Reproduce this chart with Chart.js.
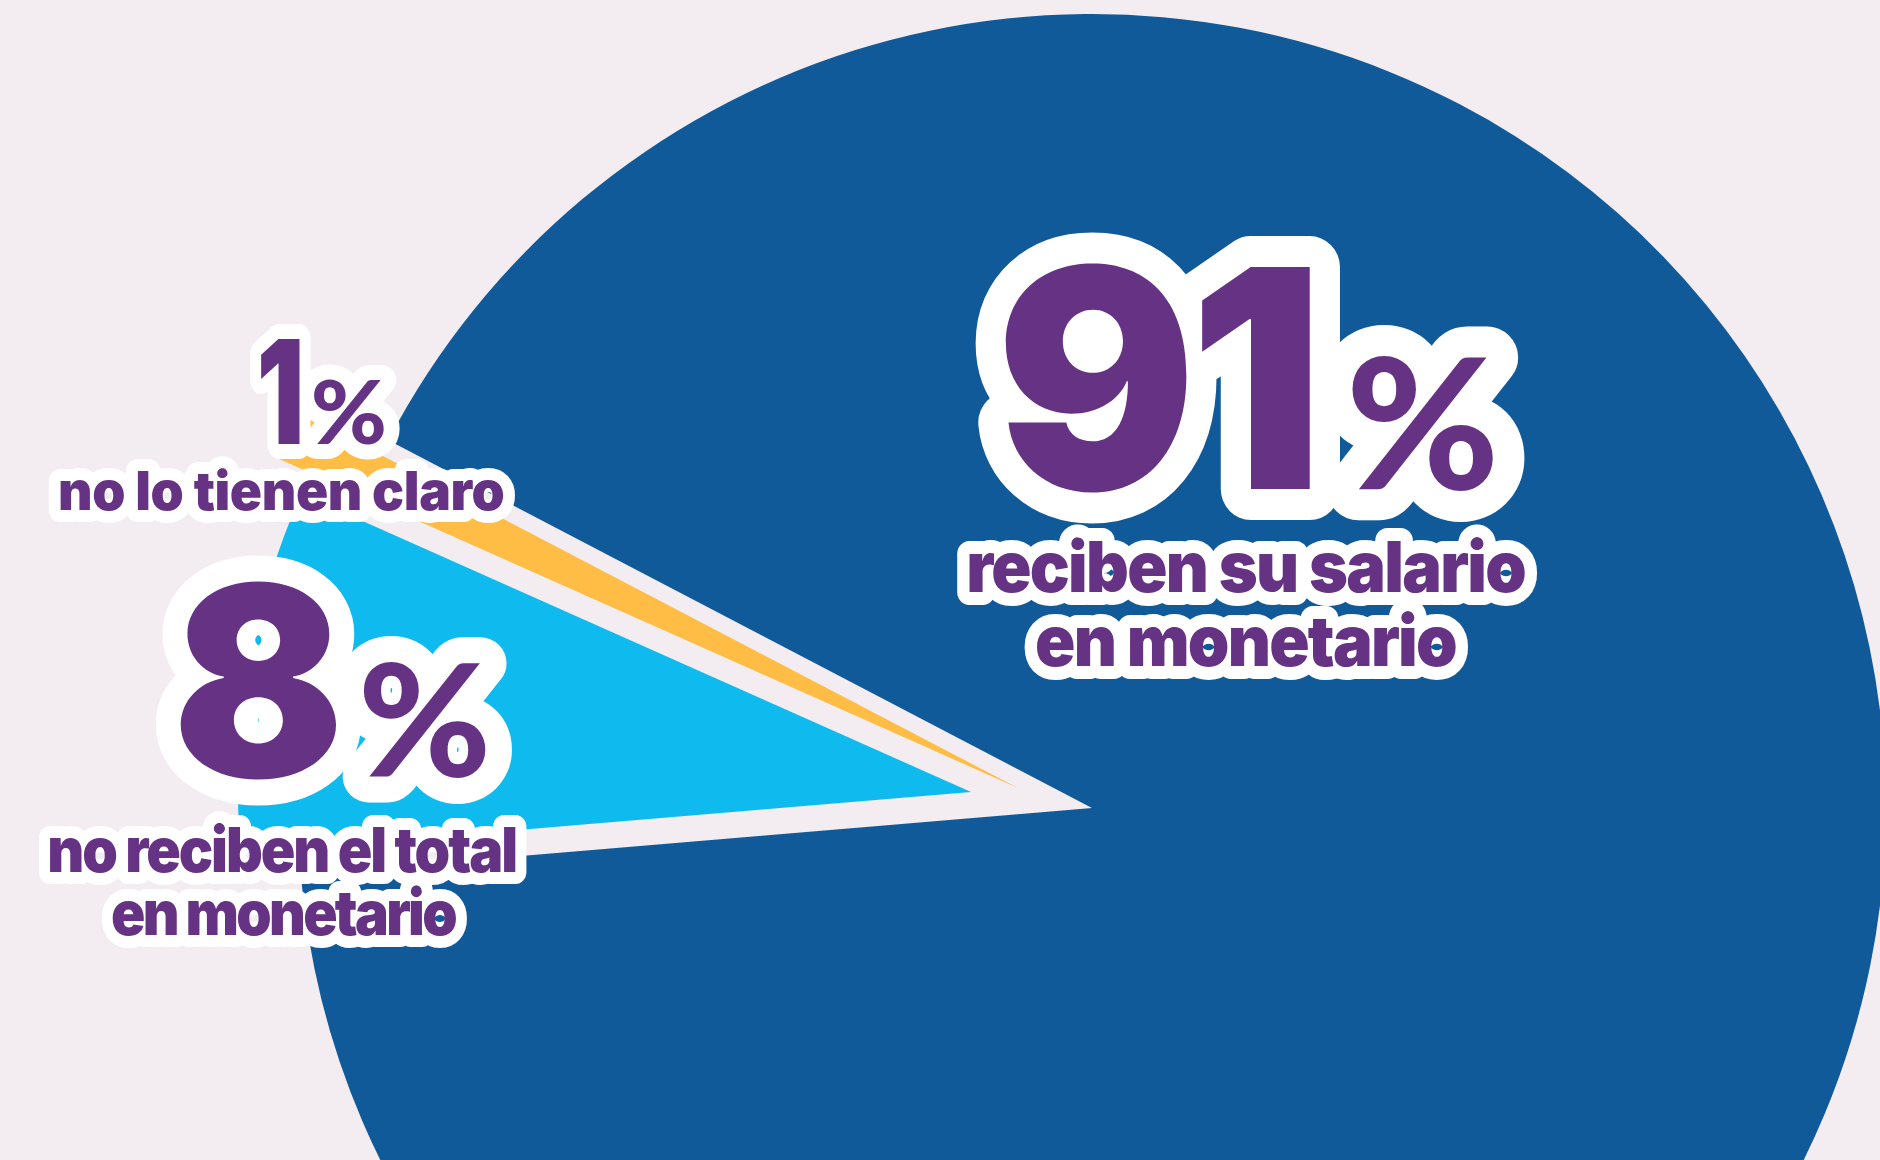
<!DOCTYPE html>
<html>
<head>
<meta charset="utf-8">
<script src="https://cdn.jsdelivr.net/npm/chart.js@4.4.0/dist/chart.umd.min.js"></script>
<style>
  html, body { margin: 0; padding: 0; background: #F3EDF1; overflow: hidden; }
  #wrap { position: relative; width: 1880px; height: 1160px; }
  #wrap canvas { position: absolute; left: 0; top: 0; }
</style>
</head>
<body>
<div id="wrap">
  <canvas id="sliceMain" width="1880" height="1160"></canvas>
  <canvas id="sliceMid" width="1880" height="1160"></canvas>
  <canvas id="sliceSmall" width="1880" height="1160"></canvas>
</div>
<script>
// datos
const categories = ['reciben su salario en monetario', 'no reciben el total en monetario', 'no lo tienen claro'];
const shares = [91, 8, 1];
const sliceColors = ['#115A99', '#0EBAEE', '#FFBD45'];

const PURPLE = '#663283';
const FONT = 'Inter, Roboto, sans-serif';
const PCT_FONT = 'Lato, Inter, sans-serif';
const W = 1880, H = 1160;

// each slice is its own pie, pulled out of the main one
function drawSlice(canvasId, idx, cx, cy, radius, extraPlugins) {
    const canvas = document.getElementById(canvasId);
    const padX = 2 * cx - W, padY = 2 * cy - H;
    return new Chart(canvas, {
        type: 'pie',
        data: {
            labels: categories,
            datasets: [{
                data: shares,
                backgroundColor: sliceColors.map((c, i) => i === idx ? c : 'rgba(0,0,0,0)'),
                borderWidth: 0
            }]
        },
        options: {
            responsive: false,
            animation: false,
            events: [],
            devicePixelRatio: 1,
            radius: radius,
            rotation: -62.4,
            layout: {
                padding: {
                    left: Math.max(padX, 0), right: Math.max(-padX, 0),
                    top: Math.max(padY, 0), bottom: Math.max(-padY, 0)
                }
            },
            plugins: { legend: { display: false }, tooltip: { enabled: false } }
        },
        plugins: extraPlugins || []
    });
}

// texto con contorno blanco, ajustado a un ancho
function fitText(ctx, text, size, x0, x1, baseline, stroke, outline) {
    ctx.save();
    ctx.font = `900 ${size}px ${text === '%' ? PCT_FONT : FONT}`;
    ctx.letterSpacing = '0px';
    let m = ctx.measureText(text);
    let ink = m.actualBoundingBoxLeft + m.actualBoundingBoxRight;
    const target = x1 - x0;
    if (text.length > 1 && ink > target) {
        const ls = Math.max((target - ink) / (text.length - 1) * 0.5, -size * 0.05);
        ctx.letterSpacing = ls + 'px';
        m = ctx.measureText(text);
        ink = m.actualBoundingBoxLeft + m.actualBoundingBoxRight;
    }
    const sx = target / ink;
    ctx.translate(x0, baseline);
    ctx.scale(sx, 1);
    ctx.textAlign = 'left';
    ctx.textBaseline = 'alphabetic';
    if (stroke) {
        ctx.strokeStyle = '#FFFFFF';
        ctx.lineJoin = 'round';
        ctx.lineCap = 'round';
        ctx.lineWidth = outline * 2;
        ctx.strokeText(text, m.actualBoundingBoxLeft, 0);
    } else {
        ctx.fillStyle = PURPLE;
        ctx.fillText(text, m.actualBoundingBoxLeft, 0);
    }
    ctx.restore();
}

const labelPlugin = {
    id: 'bigLabels',
    afterDraw(chart) {
        const ctx = chart.ctx;
        const items = [
            // 91%
            [String(shares[0]), 305, 1005, 1310, 489, 31],
            ['%', 182, 1352, 1493, 489, 31],
            ['reciben su salario', 70, 969, 1525, 592, 13],
            ['en monetario', 70, 1037, 1456, 666, 13],
            // 1%
            [String(shares[2]), 144, 261, 300, 444, 15],
            ['%', 87, 314, 384, 444, 15],
            ['no lo tienen claro', 54, 60, 504, 510, 12],
            // 8%
            [String(shares[1]), 265, 180, 339, 777, 26],
            ['%', 157, 363, 486, 777, 26],
            ['no reciben el total', 62, 50, 516, 872, 12],
            ['en monetario', 62, 112, 456, 935, 12]
        ];
        items.forEach(it => fitText(ctx, it[0], it[1], it[2], it[3], it[4], true, it[5]));
        items.forEach(it => fitText(ctx, it[0], it[1], it[2], it[3], it[4], false, it[5]));
    }
};

drawSlice('sliceMain', 0, 1092, 808, 794);
drawSlice('sliceMid', 1, 971, 792, 733);
drawSlice('sliceSmall', 2, 1018, 788, 810, [labelPlugin]);
</script>
</body>
</html>
